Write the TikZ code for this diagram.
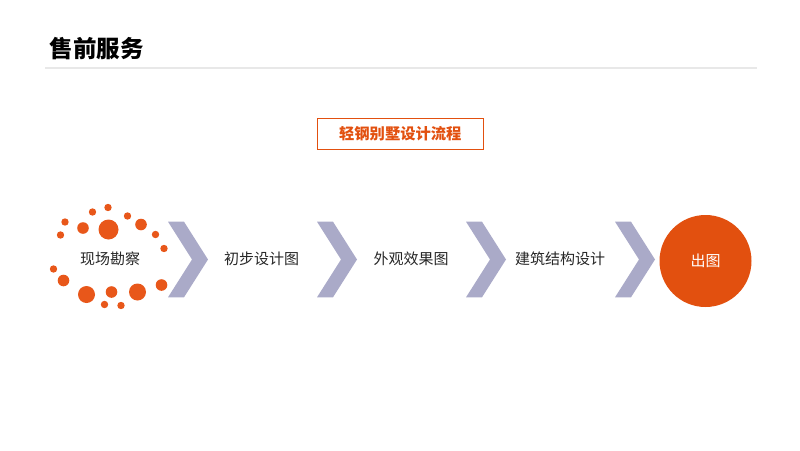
\documentclass[tikz,border=0pt]{standalone}
\usepackage{fontspec}
\setmainfont{Noto Sans CJK SC}
\begin{document}
\begin{tikzpicture}[x=1pt,y=-1pt,
  chev/.style={fill=chevgray, draw=none},
  dot/.style={fill=dotorange, draw=none},
  steptext/.style={font=\fontsize{15}{18}\selectfont, text=black!85, inner sep=0pt}
]
\definecolor{chevgray}{HTML}{AAAAC8}
\definecolor{dotorange}{HTML}{E8571A}
\definecolor{mainorange}{HTML}{E2500F}
\definecolor{lineg}{HTML}{E8E8E8}
\useasboundingbox (0,0) rectangle (800,450);
% title
\node[anchor=west, inner sep=0pt, font=\fontsize{23.5}{27}\selectfont\bfseries] (title) at (49.5,48.5) {售前服务};
\coordinate (l1) at (45,68);
\coordinate (l2) at (757,68);
\draw[lineg, line width=1.5pt] (l1) -- (l2);
% header box
\node[draw=mainorange, line width=0.8pt, minimum width=166pt, minimum height=31pt, inner sep=0pt,
  text=mainorange, font=\fontsize{15.3}{18}\selectfont\bfseries] (flow) at (400.3,133.8) {轻钢别墅设计流程};
% dots
\foreach \x/\y/\r in {108/207.5/3.7, 92.5/212/3.7, 127.5/216/3.7, 65/222/3.7,
  83/228/5.8, 108.5/229.5/10, 141/224.5/5.8, 60.5/235/3.7, 155.5/234.5/3.7, 164/248.5/3.7,
  53.5/269/3.7, 63.5/280.5/5.8, 86.5/294.5/8.5, 111.5/292/5.8, 137.5/292/8.5, 161.5/285/5.8,
  104.5/304.5/3.7, 121/305.5/3.7}
  \fill[dot] (\x,\y) circle[radius=\r];
% chevrons
\foreach \x in {168,317,466,615}
  \fill[chev] (\x,221.7) -- ++(16,0) -- ++(24,37.8) -- ++(-24,37.8) -- ++(-16,0) -- ++(24,-37.8) -- cycle;
% step texts
\node[steptext] (s1) at (110,259) {现场勘察};
\node[steptext] (s2) at (261.5,258.5) {初步设计图};
\node[steptext] (s3) at (411,258.5) {外观效果图};
\node[steptext] (s4) at (560,258.5) {建筑结构设计};
\node[circle, fill=mainorange, minimum size=92pt, inner sep=0pt, text=white,
  font=\fontsize{15}{18}\selectfont] (out) at (705.5,261) {出图};
\end{tikzpicture}
\end{document}
